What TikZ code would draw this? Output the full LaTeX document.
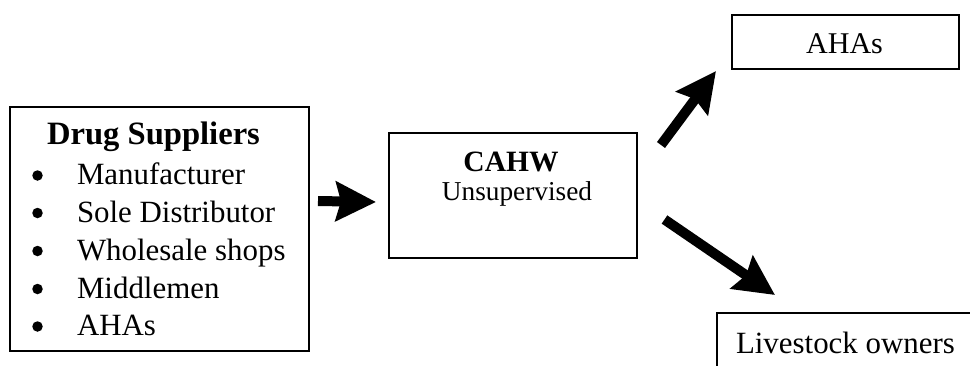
\documentclass[tikz,border=0pt]{standalone}
\usepackage{fontspec}
\setmainfont{Liberation Serif}
\usetikzlibrary{arrows.meta}
\begin{document}
\begin{tikzpicture}[x=1pt,y=-1pt,
  box/.style={draw, line width=1.3pt, inner sep=0pt, outer sep=0pt},
  txt/.style={inner sep=0pt, outer sep=0pt},
  itemfont/.style={font=\fontsize{30.9}{32}\selectfont},
  bullet/.style={circle, fill=black, minimum size=10.5pt, inner sep=0pt, outer sep=0pt},
  bigarrow/.style={line width=10pt, -{Stealth[length=40pt,width=39pt,inset=5pt]}}
]
\clip (0,0) rectangle (970,365);
\fill[white] (0,0) rectangle (970,365);

% boxes
\node[box, minimum width=299pt, minimum height=244pt] (sup) at (159.5,229) {};
\node[box, minimum width=248pt, minimum height=125pt] (cahw) at (513,195.5) {};
\node[box, minimum width=227pt, minimum height=54pt] (ahas) at (845.5,42) {};
\node[box, minimum width=283pt, minimum height=87pt] (live) at (858.5,356.5) {};

% left box text
\node[txt, anchor=base, font=\fontsize{32.6}{34}\selectfont\bfseries] (title) at (153.5,144) {Drug Suppliers};
\node[bullet] (b1) at (37.5,175.5) {};
\node[bullet] (b2) at (37.5,213) {};
\node[bullet] (b3) at (37.5,251) {};
\node[bullet] (b4) at (37.5,289) {};
\node[bullet] (b5) at (37.5,326.5) {};
\node[txt, anchor=base west, itemfont] (i1) at (77,184) {Manufacturer};
\node[txt, anchor=base west, itemfont] (i2) at (77,222) {Sole Distributor};
\node[txt, anchor=base west, itemfont] (i3) at (77,260) {Wholesale shops};
\node[txt, anchor=base west, itemfont] (i4) at (77,298) {Middlemen};
\node[txt, anchor=base west, itemfont] (i5) at (77,335) {AHAs};

% CAHW text
\node[txt, anchor=base, font=\fontsize{29.5}{31}\selectfont\bfseries] (cahwt) at (511,171) {CAHW};
\node[txt, anchor=base, font=\fontsize{27.3}{29}\selectfont] (unsup) at (517,200) {Unsupervised};

% right texts
\node[txt, anchor=base, font=\fontsize{30.1}{32}\selectfont] (ahast) at (844.5,53) {AHAs};
\node[txt, anchor=base west, font=\fontsize{30.9}{32}\selectfont] (livet) at (736,353) {Livestock owners};

% arrows
\coordinate (a1s) at (318,201);
\coordinate (a1e) at (376,202);
\coordinate (a2s) at (661,145);
\coordinate (a2e) at (716,71);
\coordinate (a3s) at (664.5,219.5);
\coordinate (a3e) at (775,295);
\draw[bigarrow] (a1s) -- (a1e);
\draw[bigarrow] (a2s) -- (a2e);
\draw[bigarrow] (a3s) -- (a3e);
\end{tikzpicture}
\end{document}
